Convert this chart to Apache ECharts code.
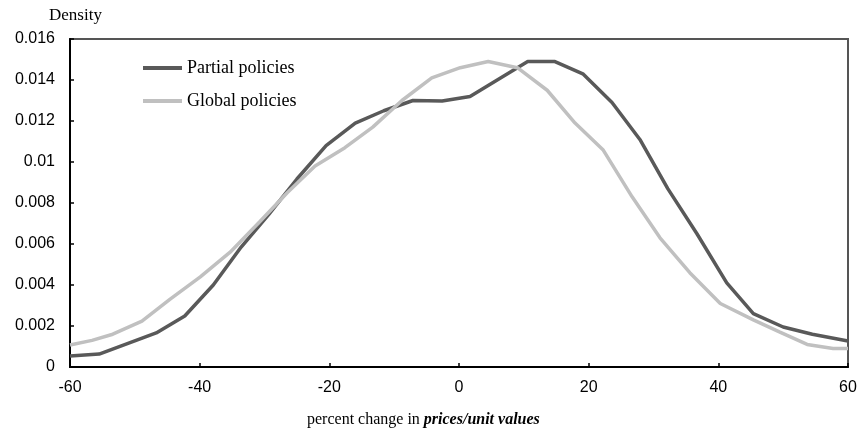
<!DOCTYPE html>
<html>
<head>
<meta charset="utf-8">
<script src="https://cdn.jsdelivr.net/npm/echarts@6/dist/echarts.min.js"></script>
<style>html,body{margin:0;padding:0;background:#fff;}#c{width:860px;height:431px;}</style>
</head>
<body>
<div id="c"></div>
<script>
var partialX = [-60, -55.5, -46.7, -42.3, -37.9, -33.6, -29.3, -25, -20.5, -16, -11.6, -7.1, -2.6, 1.7, 10.6, 14.8, 19.1, 23.6, 27.9, 32.2, 36.7, 41.3, 45.4, 50, 54.5, 60];
var partialY = [0.00054, 0.00063, 0.00166, 0.00249, 0.0040, 0.00585, 0.00746, 0.00917, 0.0108, 0.0119, 0.0125, 0.0130, 0.01298, 0.0132, 0.0149, 0.0149, 0.0143, 0.0129, 0.0111, 0.0087, 0.0065, 0.0041, 0.0026, 0.00195, 0.0016, 0.00127];
var globalX = [-60, -56.6, -53.4, -48.9, -44.6, -39.9, -35.3, -30.7, -26.5, -22.2, -17.6, -13.3, -8.8, -4.2, 0.2, 4.5, 9, 13.6, 17.9, 22.2, 26.7, 31, 35.6, 40.3, 45.4, 49.5, 53.7, 57.7, 60];
var globalY = [0.00107, 0.0013, 0.0016, 0.00224, 0.0033, 0.0044, 0.0056, 0.0071, 0.0085, 0.0098, 0.0107, 0.0117, 0.0130, 0.0141, 0.0146, 0.0149, 0.0146, 0.0135, 0.0119, 0.0106, 0.0083, 0.0063, 0.0046, 0.0031, 0.0023, 0.0017, 0.0011, 0.0009, 0.0009];
var seriesNames = ['Partial policies', 'Global policies'];
var xTitle = 'percent change in ';
var xTitleBold = 'prices/unit values';
var yTitle = 'Density';

function pairs(xs, ys) { return xs.map(function (x, i) { return [x, ys[i]]; }); }

var chart = echarts.init(document.getElementById('c'), null, {renderer: 'canvas'});
chart.setOption({
  animation: false,
  backgroundColor: '#fff',
  grid: {left: 70, right: 12, top: 39, bottom: 64, show: true, borderColor: '#555', borderWidth: 2, backgroundColor: 'transparent'},
  title: [
    {text: yTitle, left: 44, top: 2, textStyle: {fontFamily: 'Liberation Serif', fontSize: 17, fontWeight: 'normal', color: '#000'}},
    {text: '{a|' + xTitle + '}{b|' + xTitleBold + '}', left: 302, top: 407,
     textStyle: {fontWeight: 'normal', rich: {
       a: {fontFamily: 'Liberation Serif', fontSize: 16, fontWeight: 'normal', color: '#000'},
       b: {fontFamily: 'Liberation Serif', fontSize: 16, fontWeight: 'bold', fontStyle: 'italic', color: '#000'}
     }}}
  ],
  legend: {
    orient: 'vertical', left: 138, top: 54, itemGap: 15, itemWidth: 39, itemHeight: 4, icon: 'rect',
    textStyle: {fontFamily: 'Liberation Serif', fontSize: 18, color: '#000'},
    data: seriesNames
  },
  xAxis: {
    type: 'value', min: -60, max: 60, interval: 20,
    axisLine: {onZero: false, lineStyle: {color: '#000', width: 2}},
    axisTick: {inside: true, length: 4, lineStyle: {color: '#000', width: 1.5}},
    axisLabel: {margin: 13, fontFamily: 'Liberation Sans', fontSize: 16, color: '#000'},
    splitLine: {show: false}
  },
  yAxis: {
    type: 'value', min: 0, max: 0.016, interval: 0.002,
    axisLine: {show: true, onZero: false, lineStyle: {color: '#000', width: 2}},
    axisTick: {show: true, inside: true, length: 4, lineStyle: {color: '#000', width: 1.5}},
    axisLabel: {margin: 15, fontFamily: 'Liberation Sans', fontSize: 16, color: '#000'},
    splitLine: {show: false}
  },
  series: [
    {name: seriesNames[0], type: 'line', data: pairs(partialX, partialY), showSymbol: false, symbol: 'none',
     lineStyle: {color: '#595959', width: 3.5}, itemStyle: {color: '#595959'}},
    {name: seriesNames[1], type: 'line', data: pairs(globalX, globalY), showSymbol: false, symbol: 'none',
     lineStyle: {color: '#c0c0c0', width: 3.5}, itemStyle: {color: '#c0c0c0'}}
  ]
});
</script>
</body>
</html>
